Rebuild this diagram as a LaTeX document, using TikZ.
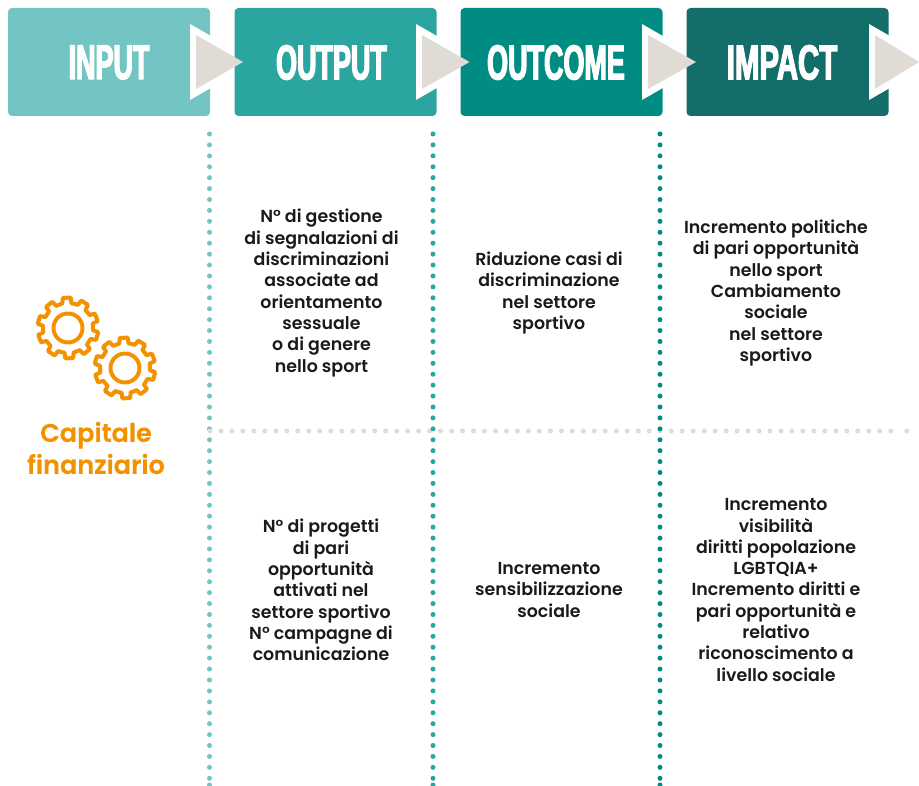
\documentclass[tikz,border=0pt]{standalone}
\usepackage{fontspec}
\setmainfont{Poppins SemiBold}
\newfontfamily\headFont[FakeStretch=0.55,FakeBold=2.5]{Liberation Sans Bold}
\newfontfamily\impactFont[FakeStretch=0.6,FakeBold=2.5]{Liberation Sans Bold}
\newfontfamily\sideFont[FakeBold=0.4]{Poppins SemiBold}
\usepackage{tikz}
\usetikzlibrary{positioning}
\definecolor{inputColor}{HTML}{72C5C2}
\definecolor{outputColor}{HTML}{2BA59F}
\definecolor{outcomeColor}{HTML}{008C83}
\definecolor{impactColor}{HTML}{136E6A}
\definecolor{wedgeColor}{HTML}{E0DBD5}
\definecolor{gearColor}{HTML}{F39200}
\definecolor{bodyColor}{HTML}{1A1A1A}
\tikzset{
    head_box/.style={
        rectangle,
        rounded corners=4pt,
        minimum width=202pt,
        minimum height=108pt,
        inner sep=0pt
    },
    head_text/.style={
        text=white,
        inner sep=0pt,
        font=\headFont\fontsize{49}{49}\selectfont
    },
    body_text/.style={
        align=center,
        text=bodyColor,
        inner sep=0pt,
        font=\fontsize{17.4}{21.3}\selectfont
    },
    side_text/.style={
        align=center,
        text=gearColor,
        inner sep=0pt,
        font=\sideFont\fontsize{25.6}{32}\selectfont
    },
    dot_line/.style={
        line width=5pt,
        line cap=round,
        dash pattern=on 0pt off 10.92pt
    },
    dot_row/.style={
        line width=5pt,
        line cap=round,
        dash pattern=on 0pt off 10.98pt
    },
    end_dot/.style={
        circle,
        minimum size=5pt,
        inner sep=0pt
    },
    gear_line/.style={
        draw=gearColor,
        line width=4pt,
        line join=round
    }
}
\newcommand{\gearShape}[1]{%
    \begin{scope}[shift={(#1)}]
        \draw[gear_line] (0:25)
            \foreach \a in {0,36,...,324} {
                -- (\a+5:25) -- (\a+8:30.5) -- (\a+23:30.5) -- (\a+26:25) -- (\a+36:25)
            } -- cycle;
        \draw[gear_line] (0,0) circle (14.5);
    \end{scope}
}
\begin{document}
\begin{tikzpicture}[x=1pt,y=-1pt]
    \useasboundingbox (0,0) rectangle (919,786);

    \node[head_box, fill=inputColor] (input) at (109,62) {};
    \fill[white] (190,24) -- (256,62) -- (190,100) -- cycle;
    \node[head_box, fill=outputColor] (output) at (335.5,62) {};
    \fill[white] (416,24) -- (482,62) -- (416,100) -- cycle;
    \node[head_box, fill=outcomeColor] (outcome) at (561.5,62) {};
    \fill[white] (642,24) -- (708,62) -- (642,100) -- cycle;
    \node[head_box, fill=impactColor] (impact) at (787.5,62) {};
    \fill[white] (869,24) -- (919,52.7) -- (919,71.3) -- (869,100) -- cycle;

    \fill[wedgeColor] (196,35) -- (243,62) -- (196,89) -- cycle;
    \fill[wedgeColor] (422,35) -- (469.5,62) -- (422,89) -- cycle;
    \fill[wedgeColor] (648,35) -- (696,62) -- (648,89) -- cycle;
    \fill[wedgeColor] (875,35) -- (919,62) -- (875,89) -- cycle;

    \node[head_text] (inputLabel) at (109,62.5) {INPUT};
    \node[head_text] (outputLabel) at (331.5,62.5) {OUTPUT};
    \node[head_text] (outcomeLabel) at (556,62.5) {OUTCOME};
    \node[head_text, font=\impactFont\fontsize{49}{49}\selectfont] (impactLabel) at (782,62.5) {IMPACT};

    % dotted grid
    \coordinate (v1top) at (209.5,134);
    \coordinate (v1end) at (209.5,780);
    \coordinate (v2top) at (433,134);
    \coordinate (v2end) at (433,780);
    \coordinate (v3top) at (660,134);
    \coordinate (v3end) at (660,780);
    \coordinate (hleft) at (210,431);
    \coordinate (hright) at (891.5,431);

    \draw[dot_line, draw=inputColor] (v1top) -- (v1end);
    \node[end_dot, fill=inputColor] (v1last) at (209.5,785) {};
    \draw[dot_row, draw=wedgeColor] (hleft) -- (hright);
    \node[end_dot, fill=wedgeColor] (hlast) at (906.7,431) {};
    \draw[dot_line, draw=outputColor] (v2top) -- (v2end);
    \node[end_dot, fill=outputColor] (v2last) at (433,785) {};
    \draw[dot_line, draw=outcomeColor] (v3top) -- (v3end);
    \node[end_dot, fill=outcomeColor] (v3last) at (660,785) {};

    \gearShape{68,328}
    \gearShape{125,368}
    \node[side_text] (capital) at (96,448) {Capitale\\finanziario};

    \node[body_text] (outputTop) at (321.5,293) {N° di gestione\\di segnalazioni di\\discriminazioni\\associate ad\\orientamento\\sessuale\\o di genere\\nello sport};
    \node[body_text] (outcomeTop) at (549,293) {Riduzione casi di\\discriminazione\\nel settore\\sportivo};
    \node[body_text] (impactTop) at (776,293) {Incremento politiche\\di pari opportunità\\nello sport\\Cambiamento\\sociale\\nel settore\\sportivo};
    \node[body_text] (outputBottom) at (321,590) {N° di progetti\\di pari\\opportunità\\attivati nel\\settore sportivo\\N° campagne di\\comunicazione};
    \node[body_text] (outcomeBottom) at (549,590) {Incremento\\sensibilizzazione\\sociale};
    \node[body_text] (impactBottom) at (776,590) {Incremento\\visibilità\\diritti popolazione\\LGBTQIA+\\Incremento diritti e\\pari opportunità e\\relativo\\riconoscimento a\\livello sociale};
\end{tikzpicture}
\end{document}
